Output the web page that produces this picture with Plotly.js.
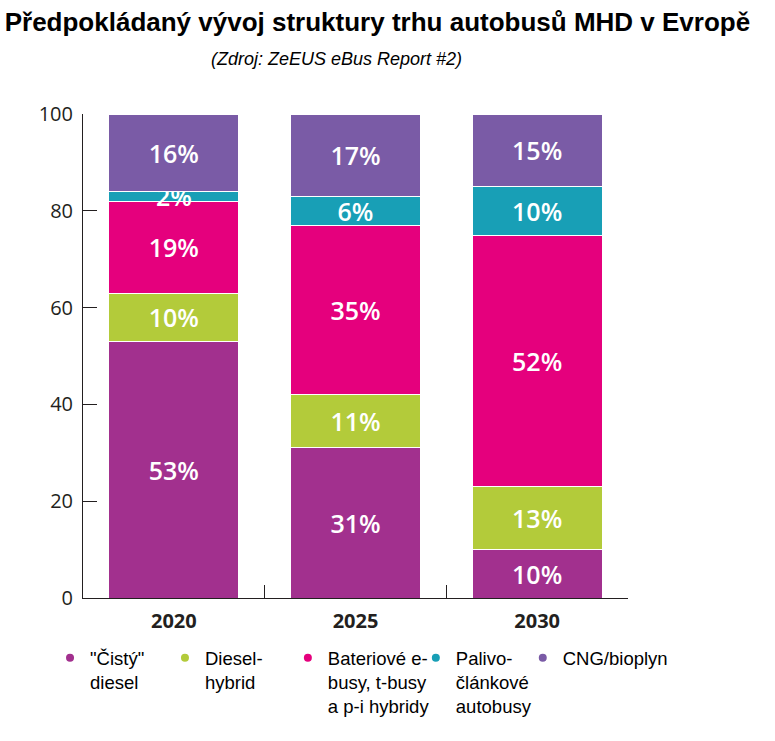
<!DOCTYPE html>
<html>
<head>
<meta charset="utf-8">
<script src="https://cdn.plot.ly/plotly-3.0.1.min.js"></script>
<style>html,body{margin:0;padding:0;background:#fff;}#chart{width:775px;height:741px;}</style>
</head>
<body>
<div id="chart"></div>
<script>
const years = ['2020', '2025', '2030'];
const seriesNames = ['"Čistý"<br>diesel', 'Diesel-<br>hybrid', 'Bateriové e-<br>busy, t-busy<br>a p-i hybridy', 'Palivo-<br>článkové<br>autobusy', 'CNG/bioplyn'];
const cleanDiesel = [53, 31, 10];
const dieselHybrid = [10, 11, 13];
const battery = [19, 35, 52];
const fuelCell = [2, 6, 10];
const cng = [16, 17, 15];
const yTicks = [0, 20, 40, 60, 80, 100];

const seriesValues = [cleanDiesel, dieselHybrid, battery, fuelCell, cng];
const colors = ['#A2308E', '#B3CB3A', '#E5007D', '#189FB6', '#7A5BA6'];
const legendIds = ['legend', 'legend2', 'legend3', 'legend4', 'legend5'];
const legendX = [-0.0605, 0.1504, 0.3759, 0.6107, 0.8069];

const traces = [];
seriesValues.forEach((vals, i) => {
  traces.push({
    type: 'bar', x: years, y: vals, name: seriesNames[i], showlegend: false,
    marker: {color: colors[i], line: {color: '#ffffff', width: 1}},
    text: vals.map(v => v + '%'), textposition: 'inside', insidetextanchor: 'middle',
    textfont: {family: 'Open Sans', size: 25, color: '#ffffff', weight: 600},
    hoverinfo: 'skip'
  });
});
seriesValues.forEach((vals, i) => {
  traces.push({
    type: 'scatter', mode: 'markers', x: [null], y: [null], name: seriesNames[i],
    marker: {color: colors[i], size: 8, symbol: 'circle'}, showlegend: true,
    legend: legendIds[i]
  });
});

const layout = {
  width: 775, height: 741,
  margin: {l: 83, r: 147, t: 114, b: 143},
  paper_bgcolor: '#ffffff', plot_bgcolor: '#ffffff',
  barmode: 'stack', bargap: 0.286,
  showlegend: true,
  title: {text: '<b>Předpokládaný vývoj struktury trhu autobusů MHD v Evropě</b>',
          font: {family: 'Liberation Sans, Arial', size: 26, color: '#000'},
          x: 0.487, xanchor: 'center', y: 0.97, yanchor: 'middle'},
  annotations: [{
    text: '<i>(Zdroj: ZeEUS eBus Report #2)</i>', xref: 'paper', yref: 'paper',
    x: 0.466, y: 1.113, xanchor: 'center', yanchor: 'middle', showarrow: false,
    font: {family: 'Liberation Sans, Arial', size: 18, color: '#000'}
  }],
  xaxis: {
    type: 'category', showgrid: false, showline: true, linecolor: '#231f20', linewidth: 1,
    ticks: 'inside', tickson: 'boundaries', ticklen: 13, tickcolor: '#231f20',
    ticklabelstandoff: 5,
    tickfont: {family: 'Open Sans', size: 20, color: '#231f20', weight: 700},
    fixedrange: true
  },
  yaxis: {
    range: [0, 100], tickvals: yTicks, showgrid: false, zeroline: false,
    showline: true, linecolor: '#231f20', linewidth: 1,
    ticks: 'inside', ticklen: 14, tickcolor: '#231f20',
    ticklabelstandoff: 5,
    tickfont: {family: 'Open Sans', size: 20, color: '#231f20'}
  },
  uniformtext: {mode: 'show', minsize: 25}
};
legendIds.forEach((id, i) => {
  layout[id] = {
    orientation: 'v', x: legendX[i], xanchor: 'left', y: -0.085, yanchor: 'top',
    valign: 'top', itemwidth: 30, bgcolor: 'rgba(0,0,0,0)',
    font: {family: 'Liberation Sans, Arial', size: 18.5, color: '#000'}
  };
});

Plotly.newPlot('chart', traces, layout, {displayModeBar: false, staticPlot: true});
</script>
</body>
</html>
